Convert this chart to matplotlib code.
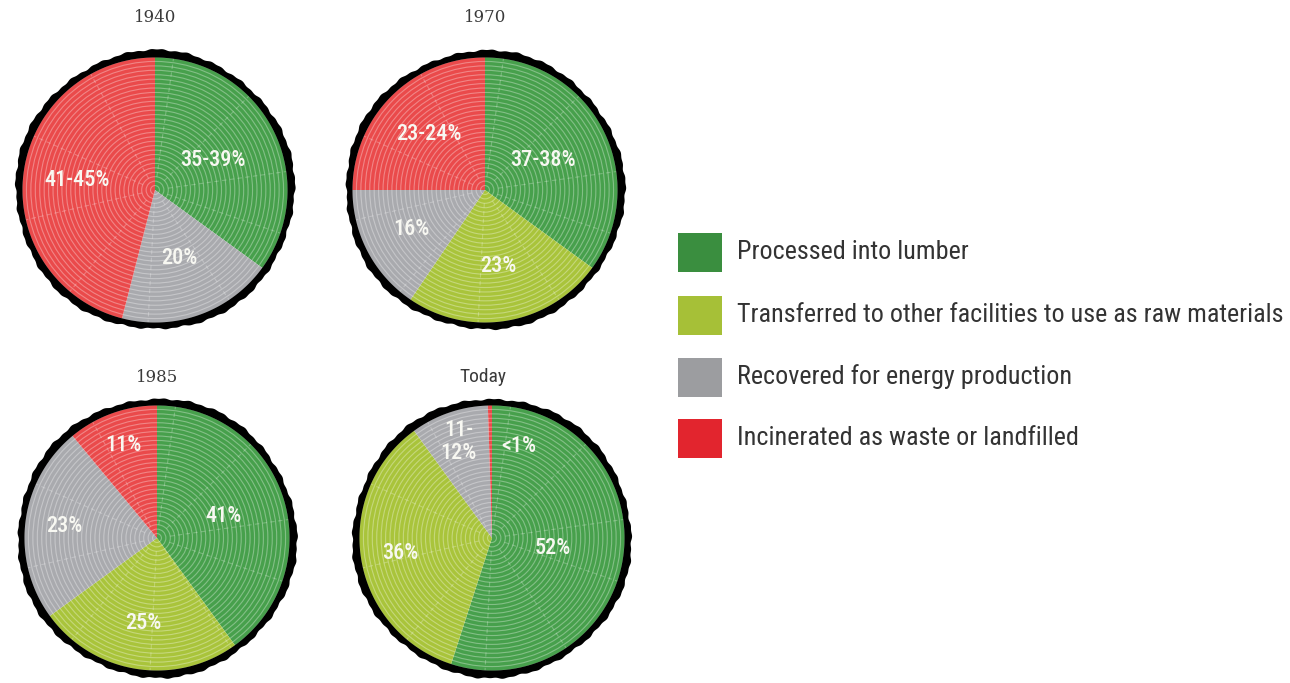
import numpy as np
import matplotlib
matplotlib.use('Agg')
import matplotlib.pyplot as plt
from matplotlib.path import Path
from matplotlib.patches import PathPatch, Circle, Rectangle

# ---------------- data ----------------
years = ['1940', '1970', '1985', 'Today']
categories = ['Processed into lumber',
              'Transferred to other facilities to use as raw materials',
              'Recovered for energy production',
              'Incinerated as waste or landfilled']
lumber = [35, 35, 40, 55]
raw_materials = [0, 24.5, 25, 35]
energy = [19, 15.5, 24, 9.5]
waste = [46, 25, 11, 0.5]
lumber_labels = ['35-39%', '37-38%', '41%', '52%']
raw_labels = ['', '23%', '25%', '36%']
energy_labels = ['20%', '16%', '23%', '11-\n12%']
waste_labels = ['41-45%', '23-24%', '11%', '<1%']

# ---------------- style ----------------
colors = ['#47a04c', '#a9c43b', '#a9aaae', '#ea4a4b']
legend_colors = ['#3a8e3f', '#a6c037', '#9c9da0', '#e2252e']
NARROW = ['Roboto Condensed', 'Open Sans Condensed', 'Liberation Sans Narrow',
          'Roboto', 'DejaVu Sans']

W, H = 1290, 683
fig = plt.figure(figsize=(12.9, 6.83), dpi=100)
ax = fig.add_axes([0, 0, 1, 1])

centers_px = [(155, 190), (485, 190), (157, 538), (492, 538)]
title_px = [(155, 18), (485, 18), (157, 378), (483, 377)]
R = 133
label_dist = [[.49, 0, .54, .59], [.49, .58, .63, .60],
              [.53, .65, .70, .74], [.46, .70, .77, .72]]
label_angle_override = {(3, 3): 74}

series = [lumber, raw_materials, energy, waste]
series_labels = [lumber_labels, raw_labels, energy_labels, waste_labels]

for i, year in enumerate(years):
    cx, cy = centers_px[i][0], H - centers_px[i][1]
    vals = [s[i] for s in series]
    idx = [k for k, v in enumerate(vals) if v > 0]
    wedges, _ = ax.pie([vals[k] for k in idx], colors=[colors[k] for k in idx],
                       startangle=90, counterclock=False, center=(cx, cy),
                       radius=R, frame=True, wedgeprops=dict(linewidth=0))
    # tree rings
    for r in np.linspace(R / 30, R, 30):
        ax.add_patch(Circle((cx, cy), r, fill=False, ec='white', lw=0.8,
                            alpha=0.33, zorder=3))
    # faint radial cracks
    for a in np.deg2rad(np.arange(8, 360, 37)):
        ax.plot([cx + 0.1 * R * np.cos(a), cx + R * np.cos(a)],
                [cy + 0.1 * R * np.sin(a), cy + R * np.sin(a)],
                color='white', lw=0.8, alpha=0.25, ls=(0, (4, 3)), zorder=3)
    # rough black bark border
    th = np.linspace(0, 2 * np.pi, 1440)
    r_out = (R + 6.5 + 0.6 * np.sin(29 * th + 0.4) + 0.4 * np.sin(71 * th + 1)
             + 0.9 * np.sin(5 * th + 0.3 + i))
    r_in = np.full_like(th, R - 0.5)
    outer = np.column_stack([cx + r_out * np.cos(th), cy + r_out * np.sin(th)])
    inner = np.column_stack([cx + r_in * np.cos(th[::-1]), cy + r_in * np.sin(th[::-1])])
    verts = np.vstack([outer, outer[:1], inner, inner[:1]])
    codes = ([Path.MOVETO] + [Path.LINETO] * (len(outer) - 1) + [Path.CLOSEPOLY] +
             [Path.MOVETO] + [Path.LINETO] * (len(inner) - 1) + [Path.CLOSEPOLY])
    ax.add_patch(PathPatch(Path(verts, codes), fc='black', ec='none', zorder=4))
    # labels
    for w, k in zip(wedges, idx):
        lbl = series_labels[k][i]
        if not lbl:
            continue
        ang = label_angle_override.get((i, k), (w.theta1 + w.theta2) / 2)
        d = label_dist[i][k] * R
        ax.text(cx + d * np.cos(np.deg2rad(ang)), cy + d * np.sin(np.deg2rad(ang)),
                lbl, color='#f8f8f2', fontsize=16, family=NARROW, fontweight='medium',
                ha='center', va='center', linespacing=1.05, zorder=5)
    # title
    tx, ty = title_px[i]
    if year.isdigit():
        ax.text(tx, H - ty, year, fontsize=12, family='DejaVu Serif',
                color='#3a3a3a', ha='center', va='center')
    else:
        ax.text(tx, H - ty, year, fontsize=14, family=NARROW,
                color='#3a3a3a', ha='center', va='center')

# legend
legend_y = [252, 315, 377, 438]
for c, name, y in zip(legend_colors, categories, legend_y):
    ax.add_patch(Rectangle((678, H - y - 19.5), 44, 39, fc=c, ec='none'))
    ax.text(737, H - y, name, fontsize=18.8, family=NARROW, color='#333333',
            ha='left', va='center')

ax.set_xlim(0, W)
ax.set_ylim(0, H)
ax.set_aspect('equal')
ax.axis('off')
fig.savefig('out.png', dpi=100, facecolor='white')
